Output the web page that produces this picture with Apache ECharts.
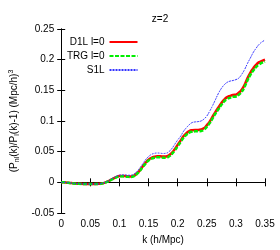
<!DOCTYPE html>
<html>
<head>
<meta charset="utf-8">
<script src="https://cdn.jsdelivr.net/npm/echarts@6/dist/echarts.min.js"></script>
<style>html,body{margin:0;padding:0;background:#fff}#c{width:280px;height:250px}</style>
</head>
<body>
<div id="c"></div>
<script>
var kValues = [0,0.005,0.01,0.015,0.02,0.025,0.03,0.035,0.04,0.045,0.05,0.055,0.06,0.065,0.07,0.075,0.08,0.085,0.09,0.095,0.1,0.105,0.11,0.115,0.12,0.125,0.13,0.135,0.14,0.145,0.15,0.155,0.16,0.165,0.17,0.175,0.18,0.185,0.19,0.195,0.2,0.205,0.21,0.215,0.22,0.225,0.23,0.235,0.24,0.245,0.25,0.255,0.26,0.265,0.27,0.275,0.28,0.285,0.29,0.295,0.3,0.305,0.31,0.315,0.32,0.325,0.33,0.335,0.34,0.345,0.35];
var d1l = [0,0,-0.0005,-0.001,-0.0015,-0.002,-0.0022,-0.0025,-0.0026,-0.0027,-0.0027,-0.0027,-0.0027,-0.0025,-0.0018,-0.0005,0.0015,0.004,0.0065,0.0088,0.0102,0.0105,0.0102,0.0096,0.0095,0.011,0.0145,0.0195,0.026,0.032,0.037,0.040,0.0418,0.0425,0.0425,0.042,0.042,0.044,0.048,0.054,0.061,0.068,0.075,0.080,0.0835,0.085,0.0855,0.0855,0.086,0.088,0.093,0.099,0.107,0.115,0.122,0.129,0.135,0.139,0.141,0.1425,0.143,0.146,0.151,0.159,0.170,0.179,0.186,0.192,0.196,0.198,0.2];
var trg = [0,0,-0.0006,-0.0012,-0.0017,-0.0022,-0.0025,-0.0027,-0.0028,-0.0029,-0.0029,-0.0029,-0.0029,-0.0027,-0.002,-0.0008,0.0012,0.0036,0.006,0.0082,0.0096,0.0098,0.0095,0.0089,0.0088,0.0102,0.0136,0.0185,0.0248,0.0306,0.0355,0.0385,0.0402,0.0408,0.0407,0.0402,0.0402,0.0421,0.046,0.0518,0.0587,0.0657,0.0726,0.0776,0.0811,0.0826,0.0831,0.0831,0.0836,0.0856,0.0905,0.0965,0.1044,0.1123,0.1192,0.1261,0.132,0.136,0.1379,0.1394,0.1399,0.1428,0.1477,0.1556,0.1665,0.1754,0.1823,0.1882,0.1922,0.1951,0.197];
var s1l = [0,0,-0.0005,-0.001,-0.0015,-0.002,-0.0022,-0.0025,-0.0026,-0.0027,-0.0027,-0.0027,-0.0027,-0.0025,-0.0017,-0.0003,0.002,0.0048,0.0075,0.0100,0.0117,0.0122,0.012,0.0115,0.0117,0.0135,0.0175,0.0235,0.030,0.037,0.042,0.0455,0.0472,0.0478,0.0475,0.047,0.0475,0.050,0.055,0.062,0.069,0.075,0.083,0.089,0.094,0.0975,0.0985,0.099,0.100,0.103,0.108,0.116,0.125,0.135,0.145,0.153,0.159,0.163,0.165,0.166,0.1675,0.170,0.176,0.184,0.194,0.203,0.212,0.219,0.225,0.229,0.232];
var seriesNames = ['D1L l=0','TRG l=0','S1L'];
var xTicks = {min: 0, max: 0.35, step: 0.05};
var yTicks = {min: -0.05, max: 0.25, step: 0.05};

function pairs(arr){ return kValues.map(function(k,i){ return [k, arr[i]]; }); }

var font = 'Liberation Sans, Arial, sans-serif';
var chart = echarts.init(document.getElementById('c'), null, {renderer:'canvas'});
var baseAxis = {
  axisLine:{show:true, lineStyle:{color:'#000', width:1}},
  axisTick:{show:true, inside:true, length:4, lineStyle:{color:'#000'}},
  splitLine:{show:false}
};
chart.setOption({
  animation:false,
  backgroundColor:'#fff',
  title:{text:'z=2', left:155, top:9, textAlign:'center',
    textStyle:{fontFamily:font, fontSize:10, fontWeight:'normal', color:'#000'}},
  grid:{left:60, right:15, top:29, bottom:32, containLabel:false},
  legend:{
    orient:'vertical', left:62, top:32, align:'right',
    itemWidth:28, itemHeight:6, itemGap:4,
    itemStyle:{opacity:0},
    data: seriesNames,
    textStyle:{fontFamily:font, fontSize:10, color:'#000', width:44, align:'right', padding:[0,0,0,0]}
  },
  xAxis:[
    Object.assign({}, baseAxis, {type:'value', min:xTicks.min, max:xTicks.max, interval:xTicks.step,
      name:'k (h/Mpc)', nameLocation:'middle', nameGap:22,
      nameTextStyle:{fontFamily:font, fontSize:10, color:'#000'},
      axisLabel:{fontFamily:font, fontSize:10, color:'#000', margin:6}}),
    Object.assign({}, baseAxis, {type:'value', position:'top', min:xTicks.min, max:xTicks.max, interval:xTicks.step,
      axisLabel:{show:false}})
  ],
  yAxis:[
    Object.assign({}, baseAxis, {type:'value', min:yTicks.min, max:yTicks.max, interval:yTicks.step,
      name:'(P{sub|nl}(k)/P{sub|l}(k)-1) (Mpc/h){sup|3}', nameLocation:'middle', nameGap:40,
      nameTextStyle:{fontFamily:font, fontSize:10, color:'#000',
        rich:{sub:{fontFamily:font, fontSize:7, color:'#000', padding:[5,0,0,0]},
              sup:{fontFamily:font, fontSize:7, color:'#000', padding:[0,0,6,0]}}},
      axisLabel:{fontFamily:font, fontSize:10, color:'#000', margin:7,
        formatter:function(v){ return String(Math.round(v*100)/100); }}}),
    Object.assign({}, baseAxis, {type:'value', position:'right', min:yTicks.min, max:yTicks.max, interval:yTicks.step,
      axisLabel:{show:false}})
  ],
  series:[
    {name:seriesNames[0], type:'line', data:pairs(d1l), showSymbol:false, symbol:'none', smooth:true,
     lineStyle:{color:'#ff0000', width:2.5}, itemStyle:{color:'#ff0000'}},
    {name:seriesNames[1], type:'line', data:pairs(trg), showSymbol:false, symbol:'none', smooth:true,
     lineStyle:{color:'#00ee00', width:2.5, type:[4,1.5]}, itemStyle:{color:'#00ee00'}},
    {name:seriesNames[2], type:'line', data:pairs(s1l), showSymbol:false, symbol:'none', smooth:true,
     lineStyle:{color:'#3333ff', width:1, type:[2,1]}, itemStyle:{color:'#3333ff'}}
  ]
});
</script>
</body>
</html>
